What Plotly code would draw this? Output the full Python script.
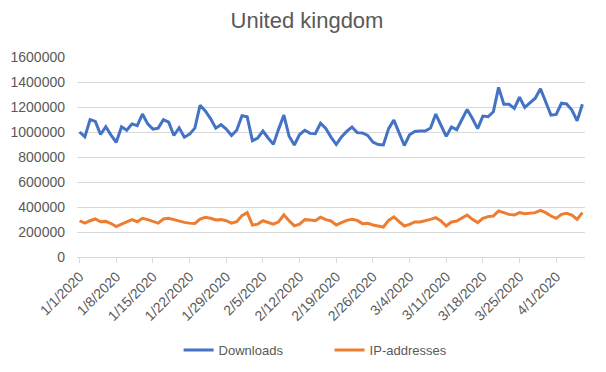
import plotly.graph_objects as go
import pandas as pd

dates = [f"{d.month}/{d.day}/{d.year}" for d in pd.date_range("2020-01-01", "2020-04-06", freq="D")]

downloads = [
    1000000, 961000, 1099000, 1085000, 980000, 1042000, 975000, 918000, 1042000, 1014000,
    1065000, 1051000, 1144000, 1065000, 1023000, 1031000, 1099000, 1079000, 972000, 1034000,
    958000, 983000, 1031000, 1214000, 1169000, 1107000, 1031000, 1059000, 1023000, 972000,
    1014000, 1130000, 1121000, 930000, 952000, 1008000, 952000, 901000, 1023000, 1135000,
    966000, 896000, 980000, 1014000, 989000, 986000, 1070000, 1028000, 959000, 900000,
    960000, 1005000, 1040000, 995000, 992000, 973000, 919000, 900000, 897000, 1027000,
    1095000, 995000, 892000, 978000, 1005000, 1008000, 1008000, 1032000, 1143000, 1054000,
    965000, 1040000, 1019000, 1100000, 1181000, 1108000, 1027000, 1127000, 1122000, 1162000,
    1357000, 1222000, 1222000, 1189000, 1278000, 1197000, 1235000, 1270000, 1346000, 1238000,
    1135000, 1141000, 1230000, 1224000, 1176000, 1089000, 1222000,
]

ip_addresses = [
    290000, 271000, 290000, 304000, 282000, 285000, 268000, 244000, 263000, 282000,
    299000, 282000, 310000, 299000, 282000, 271000, 304000, 310000, 299000, 285000,
    277000, 271000, 268000, 304000, 318000, 310000, 296000, 299000, 290000, 271000,
    282000, 331000, 355000, 255000, 263000, 290000, 277000, 263000, 282000, 337000,
    290000, 249000, 263000, 299000, 296000, 290000, 318000, 299000, 288000, 256000,
    275000, 293000, 301000, 293000, 267000, 269000, 256000, 248000, 240000, 293000,
    320000, 283000, 248000, 261000, 280000, 280000, 288000, 301000, 315000, 288000,
    248000, 280000, 288000, 315000, 336000, 301000, 275000, 309000, 323000, 328000,
    368000, 355000, 341000, 336000, 355000, 347000, 349000, 355000, 373000, 355000,
    328000, 309000, 341000, 349000, 336000, 301000, 355000,
]

tick_labels = ["1/1/2020", "1/8/2020", "1/15/2020", "1/22/2020", "1/29/2020", "2/5/2020",
               "2/12/2020", "2/19/2020", "2/26/2020", "3/4/2020", "3/11/2020", "3/18/2020",
               "3/25/2020", "4/1/2020"]

y_ticks = [0, 200000, 400000, 600000, 800000, 1000000, 1200000, 1400000, 1600000]

FONT = "Liberation Sans"
GRAY = "#595959"

fig = go.Figure()
fig.add_trace(go.Scatter(x=dates, y=downloads, mode="lines", name="Downloads",
                         line=dict(color="#4472C4", width=3)))
fig.add_trace(go.Scatter(x=dates, y=ip_addresses, mode="lines", name="IP-addresses",
                         line=dict(color="#ED7D31", width=3)))

# page body has an 8px margin, so the figure is 598x364 to fill a 606x372 window
fig.update_layout(
    width=598, height=364,
    margin=dict(l=69, r=21, t=49, b=115, autoexpand=False),
    paper_bgcolor="white", plot_bgcolor="white",
    font=dict(family=FONT, color=GRAY, size=13),
    title=dict(text="United kingdom", x=0.5, xanchor="center", y=0.965, yanchor="middle",
               font=dict(family=FONT, size=22, color=GRAY)),
    showlegend=True,
    legend=dict(orientation="h", x=0.2, xanchor="left", y=-0.465, yanchor="middle",
                entrywidth=106, entrywidthmode="pixels",
                font=dict(family=FONT, size=13, color=GRAY), bgcolor="rgba(0,0,0,0)"),
    xaxis=dict(type="category", range=[-0.5, len(dates) - 0.5], tickmode="array",
               tickvals=tick_labels, ticktext=tick_labels, tickangle=-45,
               showgrid=False, showline=True, linecolor="#d9d9d9", linewidth=1,
               ticks="outside", ticklen=5, tickcolor="#d9d9d9",
               tickfont=dict(family=FONT, size=14, color=GRAY), automargin=False),
    yaxis=dict(range=[0, 1600000], tickmode="array", tickvals=y_ticks,
               ticktext=[str(v) for v in y_ticks],
               showgrid=True, gridcolor="#d9d9d9", gridwidth=1, zeroline=False,
               showline=False, ticks="", ticklabelstandoff=11,
               tickfont=dict(family=FONT, size=14, color=GRAY), automargin=False),
)

fig.write_html("out.html")
